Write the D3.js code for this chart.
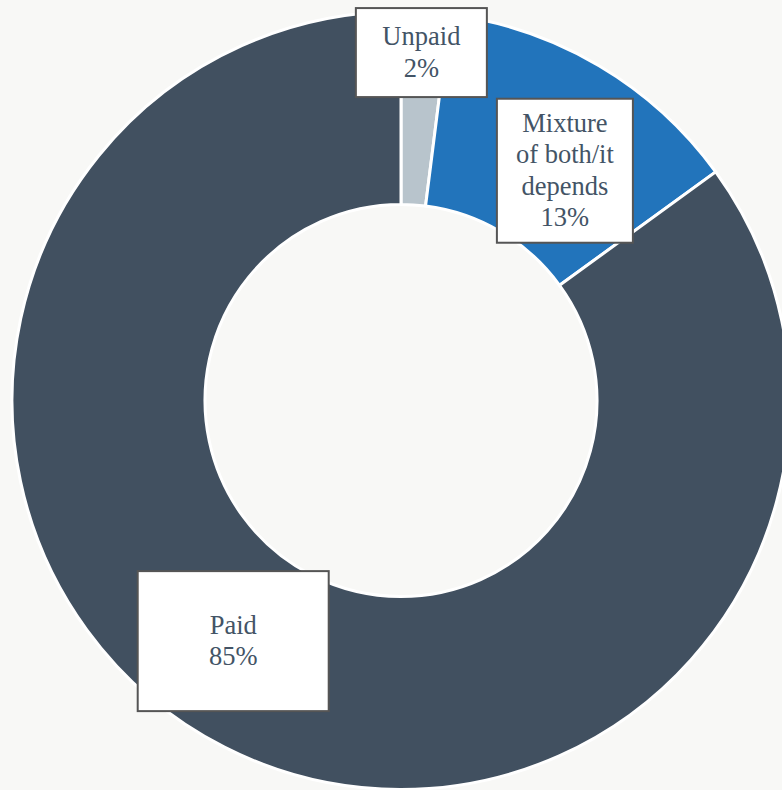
<!DOCTYPE html>
<html>
<head>
<meta charset="utf-8">
<script src="https://cdn.jsdelivr.net/npm/d3@7"></script>
<style>
  html, body { margin: 0; padding: 0; background: #f8f8f6; }
  svg { display: block; }
</style>
</head>
<body>
<svg id="chart" width="782" height="790"></svg>
<script>
// Survey answers: share of respondents (%)
const categories = ["Unpaid", "Mixture of both/it depends", "Paid"];
const values = [2, 13, 85];
const labelLines = [["Unpaid"], ["Mixture", "of both/it", "depends"], ["Paid"]];
const colors = ["#b8c4cc", "#2274bb", "#415060"];

// Label box layout: nudge from slice centroid, and box size
const labelNudge = [[2, -56], [15, 22], [-35, -20]];
const labelBox = [[131, 89], [136, 144], [191, 140]];

const width = 782, height = 790;
const cx = 401, cy = 400.5;
const outerR = 389, innerR = 196;

const svg = d3.select("#chart");
const g = svg.append("g").attr("transform", `translate(${cx},${cy})`);

const pie = d3.pie().sort(null).value(d => d.value);
const data = categories.map((c, i) => ({ name: c, value: values[i], i }));
const arcs = pie(data);

const arc = d3.arc().innerRadius(innerR).outerRadius(outerR);

g.selectAll("path.slice")
  .data(arcs)
  .join("path")
  .attr("class", "slice")
  .attr("d", arc)
  .attr("fill", d => colors[d.data.i])
  .attr("stroke", "#ffffff")
  .attr("stroke-width", 3)
  .attr("stroke-linejoin", "miter");

// Labels in white boxes
const lineH = 31.5;
const labels = g.selectAll("g.label")
  .data(arcs)
  .join("g")
  .attr("class", "label")
  .attr("transform", d => {
    const [x, y] = arc.centroid(d);
    const [nx, ny] = labelNudge[d.data.i];
    return `translate(${x + nx},${y + ny})`;
  });

labels.append("rect")
  .attr("x", d => -labelBox[d.data.i][0] / 2)
  .attr("y", d => -labelBox[d.data.i][1] / 2)
  .attr("width", d => labelBox[d.data.i][0])
  .attr("height", d => labelBox[d.data.i][1])
  .attr("fill", "#ffffff")
  .attr("stroke", "#555555")
  .attr("stroke-width", 2);

labels.each(function(d) {
  const lines = labelLines[d.data.i].concat([d3.format("d")(d.data.value) + "%"]);
  const n = lines.length;
  d3.select(this).selectAll("text")
    .data(lines)
    .join("text")
    .attr("x", 0)
    .attr("y", (t, k) => (k - (n - 1) / 2) * lineH)
    .attr("dy", "0.31em")
    .attr("text-anchor", "middle")
    .attr("font-family", "'Liberation Serif', 'DejaVu Serif', serif")
    .attr("font-size", 26.5)
    .attr("fill", "#435466")
    .text(t => t);
});
</script>
</body>
</html>
